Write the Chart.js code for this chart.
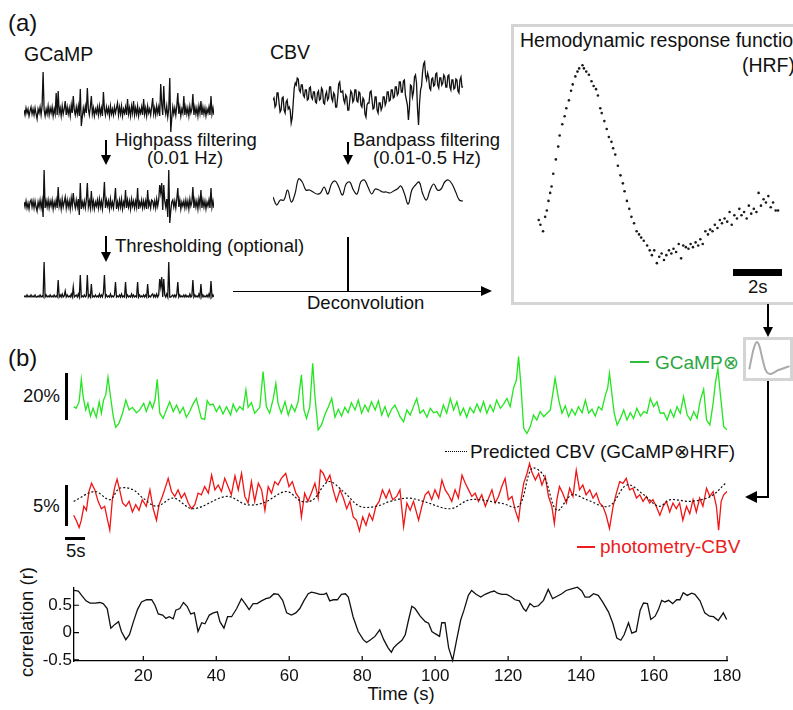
<!DOCTYPE html>
<html>
<head>
<meta charset="utf-8">
<script src="https://cdn.jsdelivr.net/npm/chart.js@4.4.0/dist/chart.umd.min.js"></script>
<style>
  body { margin:0; width:793px; height:710px; overflow:hidden; background:#fff; position:relative;
         font-family:"Liberation Sans", Arial, Helvetica, sans-serif; }
  .t { position:absolute; font-size:18.5px; line-height:1; white-space:nowrap; color:#111; }
  .big { font-size:24px; }
  .b19 { font-size:19px; }
  canvas { position:absolute; }
  .k { position:absolute; background:#000; }
  .box { position:absolute; box-sizing:border-box; border:3px solid #d4d4d4; }
</style>
</head>
<body>

<!-- panel (a) text -->
<div class="t big" style="left:8px;top:11px">(a)</div>
<div class="t" style="left:24px;top:45px;font-size:19.5px">GCaMP</div>
<div class="t" style="left:270px;top:43px;font-size:19.5px">CBV</div>
<div class="t" style="left:115px;top:131px">Highpass filtering</div>
<div class="t" style="left:147px;top:149px">(0.01 Hz)</div>
<div class="t" style="left:353px;top:131px">Bandpass filtering</div>
<div class="t" style="left:373px;top:149px">(0.01-0.5 Hz)</div>
<div class="t" style="left:115px;top:237px">Thresholding (optional)</div>
<div class="t" style="left:307px;top:294px">Deconvolution</div>

<div class="box" style="left:511px;top:24px;width:320px;height:281px"></div>
<div class="t" style="left:520px;top:31px;font-size:19.5px">Hemodynamic response function</div>
<div class="t" style="right:-2px;top:56px;font-size:19.5px">(HRF)</div>
<div class="k" style="left:733px;top:269px;width:49px;height:7px"></div>
<div class="t" style="left:748px;top:278px">2s</div>

<div class="box" style="left:743px;top:337px;width:50px;height:44px"></div>

<!-- panel (b) text -->
<div class="t big" style="left:8px;top:346px">(b)</div>
<div class="t" style="left:23px;top:387px">20%</div>
<div class="k" style="left:65px;top:373px;width:3px;height:47px"></div>
<div class="k" style="left:630px;top:361px;width:19px;height:1.5px;background:#2fbf3a"></div>
<div class="t b19" style="left:655px;top:353px;color:#2aa83e">GCaMP&#8855;</div>
<div class="k" style="left:445px;top:451px;width:22px;height:0;background:none;border-top:1.5px dotted #000"></div>
<div class="t b19" style="left:470px;top:442px">Predicted CBV (GCaMP&#8855;HRF)</div>
<div class="t" style="left:33px;top:497px">5%</div>
<div class="k" style="left:65px;top:485px;width:3px;height:41px"></div>
<div class="k" style="left:65px;top:537px;width:20px;height:2.5px"></div>
<div class="t" style="left:66px;top:542px">5s</div>
<div class="k" style="left:577px;top:546px;width:18px;height:1.5px;background:#ee1c1c"></div>
<div class="t b19" style="left:600px;top:537px;color:#e8201e">photometry-CBV</div>
<div class="t" style="left:401px;top:685px;transform:translateX(-50%)">Time (s)</div>
<div class="t" style="left:27px;top:622px;transform:translate(-50%,-50%) rotate(-90deg)">correlation (r)</div>

<canvas id="cGcampRaw" width="190" height="70" style="left:24px;top:66px"></canvas>
<canvas id="cGcampHp" width="190" height="65" style="left:24px;top:165px"></canvas>
<canvas id="cGcampThr" width="190" height="48" style="left:24px;top:255px"></canvas>
<canvas id="cCbvRaw" width="190" height="80" style="left:273px;top:55px"></canvas>
<canvas id="cCbvBp" width="190" height="45" style="left:273px;top:170px"></canvas>
<canvas id="cHrf" width="268" height="245" style="left:525px;top:40px"></canvas>
<canvas id="cHrfIcon" width="46" height="42" style="left:746px;top:338px"></canvas>
<canvas id="cGreen" width="657" height="100" style="left:70px;top:340px"></canvas>
<canvas id="cRed" width="657" height="90" style="left:70px;top:455px"></canvas>
<canvas id="cCorr" width="793" height="135" style="left:0px;top:575px"></canvas>

<script>
// ---------- values ----------
// (a) thumbnails, sample index on x, arbitrary units (px) on y
const gcampRaw = [2,-3,4,-1,3,-4,1,5,-2,3, -3,4,-2,-7,3,-1,5,-3,6,40, 2,-4,3,-2,6,-3,4,-1,5,-4,
  3,-2,19,-3,21,-1,4,-4,6,-2, 3,11,-3,5,-2,4,-4,7,-1,16, 2,-3,5,-2,6,-4,23,-14,-5,4,
  -2,6,-1,24,3,-3,5,16,-2,4, -4,3,-1,5,-3,6,-2,4,-4,20, 3,-3,5,-1,4,-4,6,-2,3,-3,
  5,-1,4,9,-3,5,-2,6,-4,3, -1,5,-3,13,-2,4,-4,6,-1,11, -3,4,-2,6,-4,3,-1,5,-3,13,
  -2,4,-4,6,-1,3,-3,5,14,-2, 4,-3,6,-1,5,-4,28,8,-3,26, 4,-2,6,-5,3,34,-20,-6,5,-2,
  4,-3,6,19,-2,5,-4,3,-1,16, -3,5,-2,4,-4,6,-1,3,18,-3, 5,-2,4,-4,6,-1,11,-3,5,-2, 4,-4,3,-1,5,-3,16,-2,4,-3];
const gcampHighpass = [3,-2,4,-3,2,-4,3,5,-2,4, -3,4,-2,-6,3,-2,5,-3,4,-12, 35,-3,4,-2,5,-3,4,-1,5,-4,
  3,-2,5,-3,18,-1,4,-4,6,-2, 3,8,-3,5,-2,4,-4,7,-1,12, 2,-3,5,-2,6,-10,22,-4,3,-2,
  4,-3,5,22,-2,4,-3,14,-2,4, -4,3,-1,5,-3,6,-2,4,-4,6, 23,-3,5,-1,4,-4,6,-2,3,-3,
  5,17,-4,3,-3,5,-2,6,-4,3, -1,15,-3,5,-2,4,-4,6,-1,4, -3,4,-2,17,-4,3,-1,5,-3,4,
  -2,4,-4,15,-1,3,-3,5,4,-2, 4,-3,6,-1,5,20,12,22,-5,20, 4,-2,6,-12,35,-18,-6,3,5,-2,
  4,-3,6,17,-2,5,-4,3,-1,4, -3,5,-2,4,-4,6,-1,3,18,-3, 5,-2,4,-4,6,-1,15,-3,5,-2, 4,-4,3,-1,5,-3,17,-2,4,-3];
const gcampThresh = [0,1,0,2,0,1,0,2,0,1, 0,2,0,0,1,0,2,0,1,0, 35,0,2,0,1,0,2,0,1,0,
  2,0,1,0,17,0,2,0,3,0, 1,6,0,2,0,1,0,3,0,10, 0,1,2,0,3,0,22,0,1,0,
  2,0,1,22,0,2,0,13,0,1, 0,2,0,1,0,3,0,2,0,4, 22,0,2,0,1,0,3,0,1,0,
  2,15,0,1,0,2,0,3,0,1, 0,15,0,2,0,1,0,3,0,2, 0,1,0,15,0,2,0,1,0,2,
  0,2,0,13,0,1,0,2,3,0, 2,0,3,0,2,18,10,20,0,18, 2,0,3,0,35,0,0,1,2,0,
  2,0,3,15,0,2,0,1,0,2, 0,2,0,1,0,3,0,1,17,0, 2,0,1,0,3,0,13,0,2,0, 1,0,2,0,3,0,16,0,2,0];
const cbvRaw = [0,2,-7,-5,7,7,-3,-12,-10,2,3,-10,-13,-2,0,-9,-7,-10,-23,-18,-3,12,17,15,22,21,10,8,15,15,
  5,3,10,10,0,1,12,13,3,1,8,8,-2,-3,7,9,0,1,12,10,-3,-4,5,8,0,2,13,13,2,-1,
  7,5,-7,-7,3,16,18,8,8,9,0,-3,5,3,-10,-10,0,9,7,-2,0,10,10,-1,-2,8,7,-5,-7,2,
  0,-14,-17,-5,-3,-3,8,9,0,-9,-8,3,3,-10,-13,-3,-3,-10,-7,3,3,-5,-2,8,8,-1,0,10,10,2,
  3,13,13,5,7,18,18,8,8,19,20,5,0,-5,-20,-8,15,14,3,8,23,25,17,-9,-25,-3,10,14,28,36,
  38,24,20,27,23,12,10,21,22,14,15,26,27,15,12,22,22,15,17,25,23,13,13,24,25,13,10,20,20,11,
  12,21,20,9,7,20,23,13,13];
const cbvBandpass = [-5,-13,-8,-8,2,-10,-2,13,10,2,2,0,-2,-1,5,-2,8,11,5,-3,8,10,2,-2,10,12,5,-2,3,2,0,0,-1,1,3,6,-2,-12,2,7,10,-2,-8,2,8,2,3,10,12,8,0,-8,-9];

// hemodynamic response function (s, normalised amplitude)
const hrfTime = [0,0.07,0.18,0.27,0.34,0.41,0.48,0.54,0.61,0.72,0.82,0.88,0.99,1.09,1.16,1.27,1.36,1.43,1.54,1.63,1.70,1.84,1.90,2.0,2.11,2.22,2.31,2.41,2.49,2.59,2.65,2.76,2.86,2.95,3.06,3.13,3.22,3.33,3.44,3.54,3.61,3.71,3.81,3.90,4.01,4.12,4.22,4.31,4.42,4.56,4.67,4.76,4.86,4.97,5.07,5.17,5.27,5.37,5.48,5.58,5.67,5.78,5.89,5.99,6.08,6.19,6.30,6.39,6.49,6.60,6.71,6.80,6.90,7.01,7.12,7.21,7.31,7.41,7.52,7.62,7.71,7.82,7.93,8.03,8.12,8.23,8.34,8.44,8.53,8.64,8.75,8.84,8.94,9.05,9.16,9.25,9.35,9.46,9.56,9.66,9.76,9.86,9.97,10.07];
const hrfAmp = [0.00,-0.03,-0.07,0.02,0.06,0.12,0.17,0.21,0.29,0.38,0.46,0.53,0.60,0.65,0.70,0.75,0.81,0.85,0.90,0.93,0.95,0.97,0.95,0.93,0.91,0.87,0.84,0.82,0.78,0.70,0.67,0.62,0.57,0.52,0.49,0.45,0.41,0.34,0.28,0.23,0.18,0.12,0.07,0.02,-0.02,-0.07,-0.09,-0.11,-0.13,-0.16,-0.19,-0.22,-0.19,-0.27,-0.23,-0.21,-0.25,-0.22,-0.19,-0.21,-0.18,-0.20,-0.15,-0.24,-0.16,-0.17,-0.18,-0.15,-0.17,-0.14,-0.16,-0.12,-0.15,-0.07,-0.09,-0.06,-0.07,-0.03,-0.05,0.00,-0.02,0.01,-0.01,0.05,-0.03,0.03,0.01,0.07,0.03,0.05,0.01,0.09,0.04,0.07,0.05,0.17,0.09,0.13,0.11,0.15,0.08,0.11,0.06,0.06];
const hrfIconTime = [0,0.6,1.2,1.8,2.4,3.0,3.6,4.2,5.0,6.0,7.0,8.2,9.8];
const hrfIconAmp = [0,0.45,0.82,1.0,0.88,0.52,0.15,-0.09,-0.17,-0.12,-0.03,0.03,0.12];

// (b) GCaMP, % dF/F
const gcampTime = [1.0,1.7,2.5,3.1,3.6,4.3,4.9,5.6,6.3,7.2,8.0,8.6,9.2,9.8,10.4,11.1,11.8,12.5,13.4,14.4,15.3,16.2,17.1,18.2,19.1,20.2,20.9,21.9,22.6,23.3,23.9,24.6,25.5,26.4,27.3,28.3,29.2,30.1,31.0,31.9,32.8,33.7,34.6,35.4,36.0,36.9,37.6,38.3,39.2,40.1,41.0,41.9,42.9,44.0,44.7,45.6,46.5,47.4,48.2,48.8,49.7,50.6,52.0,52.9,53.8,54.7,55.7,56.4,57.0,57.9,58.9,59.8,60.7,61.6,62.5,63.4,64.1,64.8,65.7,66.5,67.1,68.0,68.9,69.8,70.8,71.7,72.6,73.5,74.4,75.3,76.2,77.1,78.1,79.0,79.9,80.8,81.7,82.6,83.6,84.5,85.4,86.3,87.2,88.1,89.0,90.0,
  90.4,91.4,92.3,93.2,94.1,95.0,95.9,96.8,97.8,98.7,99.6,100.5,101.4,102.3,103.2,104.2,105.1,106.0,106.9,107.8,108.7,109.6,110.6,111.5,112.4,113.3,114.2,115.1,116.0,116.9,117.9,118.8,119.7,120.6,121.5,122.3,122.9,123.5,124.3,125.2,126.1,127.0,127.9,128.8,129.8,130.7,131.6,132.5,132.9,133.9,134.8,135.7,136.6,137.5,138.4,139.3,140.3,141.2,142.1,143.0,143.9,144.8,145.7,146.7,147.3,147.8,148.5,149.1,149.9,150.8,151.7,152.6,153.5,154.4,155.3,156.3,157.2,158.1,159.0,159.9,160.8,161.7,162.7,163.6,164.5,165.4,166.3,167.2,168.1,169.1,170.0,170.9,171.8,172.7,173.6,174.4,175.3,176.2,176.8,177.5,178.2,179.1,180.0];
const gcampPct = [2.7,2.0,4.8,14.3,7.0,1.3,4.1,-1.3,2.0,-1.8,4.8,-0.1,5.5,7.7,15.2,7.0,-0.9,-6.1,-4.4,-0.1,5.5,1.3,2.4,0.1,1.3,4.1,0.6,4.8,2.0,5.5,14.3,-0.1,-2.3,1.3,4.8,0.6,3.4,-0.1,2.4,-1.8,0.6,3.8,6.2,1.3,-2.3,-2.7,5.2,3.4,3.8,0.6,3.0,-0.4,2.7,-0.9,3.8,0.6,2.7,1.3,9.8,2.4,4.4,-0.1,2.4,17.6,2.7,-0.1,6.2,12.6,4.1,-0.1,4.8,-0.9,3.4,0.6,4.8,16.2,1.3,-2.3,2.7,21.1,7.0,-7.2,-5.1,-0.9,2.7,6.2,-1.8,1.6,-1.3,2.4,0.1,4.4,1.3,5.5,-0.1,3.4,0.6,4.8,1.3,5.2,-0.9,2.7,-1.6,1.6,3.4,0.1,
  -1.6,-3.7,1.3,-0.9,2.7,6.2,-0.1,1.3,-1.8,2.0,0.1,0.6,-1.6,3.4,-0.1,6.2,1.3,4.8,-0.9,2.0,-1.8,2.4,0.1,3.8,0.6,4.8,-0.1,3.4,0.6,5.5,2.0,3.8,6.2,2.7,10.5,14.0,24.0,12.6,-6.5,-8.7,-5.8,-0.9,-3.0,0.6,-1.6,-0.1,1.3,10.5,14.8,5.5,-0.1,3.0,-1.6,1.6,-0.9,2.7,0.1,5.5,-0.1,1.6,-1.3,2.7,1.3,7.7,10.5,16.9,7.7,-0.1,-5.1,-2.3,1.3,-3.0,0.1,-2.3,2.0,-1.3,0.6,-0.1,6.2,2.7,4.8,-0.1,0.1,-3.0,1.3,-1.8,2.7,-0.1,7.0,-0.9,-3.0,0.6,-2.3,5.5,10.1,-3.0,-5.1,4.1,12.6,19.0,7.7,-5.8,-7.2];

// (b) photometry CBV, %
const cbvTime = [1.0,1.7,2.5,3.1,3.8,4.5,5.2,5.9,6.8,7.7,8.6,9.5,10.1,10.9,11.6,12.3,12.9,13.6,14.4,15.3,16.2,17.1,18.0,18.9,19.8,20.9,21.9,22.8,23.7,24.4,25.3,26.2,26.9,27.8,28.7,29.6,30.5,31.4,32.4,33.3,34.2,35.1,36.0,36.9,37.9,38.8,39.7,40.6,41.5,42.4,43.3,44.2,45.2,46.1,47.0,47.9,48.8,49.7,50.6,51.6,52.5,53.4,54.3,55.2,56.1,57.0,57.9,59.1,60.0,60.9,61.9,62.8,63.4,64.3,65.2,66.1,67.1,68.0,68.6,69.4,70.3,71.2,72.1,73.0,74.0,74.9,75.8,76.7,77.6,78.5,79.3,80.2,81.1,82.0,82.9,83.8,84.7,85.6,86.6,87.5,88.4,89.5,
  90.4,91.4,92.3,93.2,94.1,95.5,96.4,97.3,98.2,99.1,100.0,101.0,101.9,102.8,103.7,104.6,105.5,106.4,107.4,108.3,109.2,110.1,111.0,111.9,112.8,113.8,114.7,115.6,116.5,117.4,118.3,119.2,120.1,121.1,122.0,122.9,123.5,124.3,125.2,125.9,126.5,127.5,128.4,129.3,130.2,131.1,132.0,132.7,133.4,134.1,135.0,136.0,136.9,137.8,138.7,139.6,140.5,141.4,142.4,143.3,144.2,145.1,146.0,146.9,147.8,148.8,149.7,150.6,151.5,152.4,153.3,154.2,155.2,156.1,157.0,157.9,158.8,159.7,160.6,161.6,162.5,163.4,164.3,165.2,166.1,167.0,167.9,168.9,169.8,170.7,171.6,172.5,173.4,174.4,175.3,176.2,177.1,177.7,178.4,179.1,180.0];
const cbvPct = [-1.5,-2.1,-3.0,-2.1,-0.4,-0.9,1.4,2.4,1.6,0.2,-0.7,-0.4,-1.7,-3.3,0.4,2.0,2.9,1.6,0.0,-0.4,0.2,-1.1,-0.2,-0.9,0.4,-0.4,1.6,-0.7,-2.1,-0.2,0.8,2.0,3.0,1.4,0.8,1.6,0.6,1.2,0.0,-0.7,-0.2,1.2,1.0,2.0,1.2,3.4,1.6,2.2,1.4,3.0,2.0,1.0,3.3,1.6,3.6,0.8,0.0,2.6,0.2,2.4,1.6,-0.9,2.0,1.2,2.6,2.2,3.0,3.6,2.0,2.6,1.2,0.6,-1.7,1.2,0.2,1.2,2.4,0.6,4.0,3.6,2.6,3.4,1.6,0.2,1.6,0.6,-0.7,0.2,-1.7,-2.1,-3.4,-1.7,-2.7,-1.3,-2.1,-0.4,0.2,1.6,0.6,1.6,0.4,0.8,
  1.6,-2.9,0.0,-0.9,0.2,-2.1,-0.4,1.0,1.4,0.4,1.6,0.6,2.8,1.6,1.0,0.2,1.6,0.6,3.4,2.4,1.6,0.8,1.2,0.2,1.0,-0.4,0.6,1.6,0.0,0.8,2.0,3.0,0.4,0.8,-0.9,-2.1,0.2,2.4,3.6,4.8,3.8,2.8,3.6,2.2,3.2,0.8,-0.4,-2.5,0.4,2.0,1.2,0.0,1.8,0.8,4.0,1.6,2.2,1.0,1.6,0.6,1.2,0.0,-0.4,-1.5,-3.1,-0.4,1.2,2.6,2.4,3.0,1.6,1.8,0.6,1.0,0.2,0.8,0.0,0.4,-0.4,-1.5,-0.4,0.2,-1.1,0.0,-0.7,0.0,-2.1,-0.4,-1.3,0.4,-1.1,0.6,-0.4,1.8,0.8,1.4,-0.4,-3.3,0.2,1.0,1.4];

// (b) predicted CBV (GCaMP convolved with HRF), %
const predTime = [1.0,6.8,10.9,13.6,17.3,20.0,23.7,28.3,33.7,42.9,48.4,52.9,59.3,63.4,66.6,70.8,74.9,79.4,84.0,87.7,92.7,96.8,104.2,109.6,117.9,122.9,126.5,129.7,133.4,137.5,141.6,147.6,152.6,157.2,161.3,164.5,170.0,175.5,179.6];
const predPct = [0.2,1.4,0.4,1.8,1.6,0.6,-0.4,0.6,-0.7,0.8,-0.2,0.0,1.4,0.2,0.4,2.6,1.4,-0.4,-0.4,0.2,0.6,0.2,-0.7,0.4,0.0,-0.4,4.2,3.4,-0.9,1.0,0.4,-0.4,2.2,1.0,-0.4,0.4,0.2,0.8,2.4];

// (b) sliding correlation
const corrTime = [1,2.2,3.1,4.3,5.4,6.8,8.1,9,10.1,11.1,12.2,13.2,14,15.2,16.2,17.3,18.4,19.5,20.9,22.3,23.2,24.1,25.3,26.2,27.1,28.2,28.9,30,31,32,33,34,35,36,36.9,38.1,39.2,40.3,41,42.1,43.1,44.2,45.6,46.9,48,49,50.1,51.2,52.4,53.6,54.7,55.8,57,58.2,59.3,60.6,61.8,62.9,64,65.2,66.1,67.3,68.4,69.5,70.2,71.1,72.1,73.2,74.3,75.4,76.2,77.5,78.9,80.3,81.2,82.3,83.5,84.8,85.9,87.1,88,88.6,89.5,90.9,91.8,92.7,93.6,94.5,95.9,97.3,98.2,99.1,100,101.2,101.8,102.7,103.7,104.8,105.9,107,107.9,109.1,110,111.2,112.5,113.7,115.1,116.2,117.1,118.3,119.6,120.7,121.9,123.1,124.2,124.9,126,127.1,128.3,129.7,131,132.2,133.3,134.7,135.9,137.4,139,140.2,141.1,142.3,143.4,144.7,145.9,147.5,148.7,149.8,150.9,151.8,153,153.9,155.1,156.2,157.1,158.2,159.1,160.3,161.2,162.1,163,164,165.1,166.2,167.1,168,169.1,170.3,171.2,172.6,173.9,175.2,176.3,177.6,179,179.9];
const corrR = [0.77,0.76,0.68,0.58,0.54,0.54,0.55,0.53,0.44,0.08,0.15,0.2,0.02,-0.13,-0.04,0.2,0.42,0.56,0.6,0.6,0.5,0.34,0.32,0.26,0.29,0.25,0.41,0.44,0.55,0.48,0.34,0.36,0.02,0.18,0.16,0.32,0.36,0.38,0.2,0.08,0.29,0.29,0.44,0.62,0.52,0.42,0.53,0.53,0.58,0.62,0.64,0.71,0.7,0.59,0.36,0.32,0.36,0.44,0.58,0.71,0.74,0.72,0.7,0.7,0.72,0.58,0.6,0.6,0.7,0.71,0.65,0.29,0.02,-0.13,-0.18,-0.13,-0.07,0.05,-0.13,-0.28,-0.36,-0.28,-0.22,-0.14,-0.04,0.23,0.48,0.44,0.3,0.2,0.17,0.02,-0.02,-0.07,0.18,0.18,-0.28,-0.51,-0.13,0.23,0.41,0.68,0.77,0.7,0.65,0.7,0.74,0.76,0.72,0.7,0.7,0.66,0.6,0.58,0.44,0.39,0.53,0.47,0.49,0.59,0.79,0.62,0.66,0.71,0.77,0.8,0.83,0.76,0.65,0.65,0.71,0.68,0.56,0.38,0.17,-0.1,-0.14,-0.04,0.18,-0.01,0.02,0.41,0.54,0.53,0.24,0.3,0.42,0.59,0.56,0.59,0.53,0.6,0.6,0.73,0.68,0.72,0.7,0.58,0.36,0.3,0.29,0.22,0.36,0.24];

const timeTicks = [20, 40, 60, 80, 100, 120, 140, 160, 180];
const corrTicks = [-0.5, 0, 0.5];

// ---------- helpers ----------
Chart.defaults.font.family = '"Liberation Sans", Arial, sans-serif';

function pts(xs, ys) {
  const n = xs ? Math.min(xs.length, ys.length) : ys.length;
  let out = [];
  for (let i = 0; i < n; i++) out.push({ x: xs ? xs[i] : i, y: ys[i] });
  return out;
}

function trace(data, color, width, extra) {
  return Object.assign({ data: data, borderColor: color, borderWidth: width, pointRadius: 0,
    tension: 0, clip: false, fill: false }, extra || {});
}

// chart with hidden axes, x/y range chosen so the trace lands where it sits in the figure
function bareChart(id, datasets, xr, yr) {
  return new Chart(document.getElementById(id), {
    type: 'line',
    data: { datasets: datasets },
    options: {
      responsive: false, animation: false, devicePixelRatio: 1,
      layout: { padding: 0 },
      plugins: { legend: { display: false }, tooltip: { enabled: false } },
      scales: {
        x: { type: 'linear', display: false, min: xr[0], max: xr[1] },
        y: { type: 'linear', display: false, min: yr[0], max: yr[1] }
      }
    }
  });
}

// ---------- panel (a) ----------
bareChart('cGcampRaw', [trace(pts(null, gcampRaw), '#111', 1.3)], [0, gcampRaw.length - 1], [-24, 46]);
bareChart('cGcampHp', [trace(pts(null, gcampHighpass), '#111', 1.3)], [0, gcampHighpass.length - 1], [-25, 40]);
bareChart('cGcampThr', [trace(pts(null, gcampThresh), '#111', 1.3)], [0, gcampThresh.length - 1], [-6, 42]);
bareChart('cCbvRaw', [trace(pts(null, cbvRaw), '#111', 1.3)], [0, cbvRaw.length - 1], [-35, 45]);
bareChart('cCbvBp', [trace(pts(null, cbvBandpass), '#111', 1.2, { tension: 0.4 })], [0, cbvBandpass.length - 1], [-23, 22]);

bareChart('cHrf', [trace(pts(hrfTime, hrfAmp), '#222', 0, {
  showLine: false, pointRadius: 1.3, pointBackgroundColor: '#1a1a1a', pointBorderWidth: 0 })],
  [-0.41, 10.53], [-0.382, 1.103]);
bareChart('cHrfIcon', [trace(pts(hrfIconTime, hrfIconAmp), '#aaa', 2, { tension: 0.4 })], [-0.8, 10.4], [-0.39, 1.15]);

// ---------- panel (b) ----------
bareChart('cGreen', [trace(pts(gcampTime, gcampPct), '#22e61e', 1.3)], [0, 180], [-11.5, 31.06]);
bareChart('cRed', [
  trace(pts(predTime, predPct), '#111', 1.2, { borderDash: [2, 2], tension: 0.35 }),
  trace(pts(cbvTime, cbvPct), '#f01414', 1.3)
], [0, 180], [-5.12, 5.85]);

// inward tick marks like the original figure
const inwardTicks = {
  id: 'inwardTicks',
  afterDraw(chart) {
    const ctx = chart.ctx, a = chart.chartArea;
    const sx = chart.scales.x, sy = chart.scales.y;
    ctx.save();
    ctx.strokeStyle = '#000';
    ctx.lineWidth = 1.2;
    ctx.beginPath();
    timeTicks.forEach(v => { const px = sx.getPixelForValue(v); ctx.moveTo(px, a.bottom); ctx.lineTo(px, a.bottom - 5); });
    corrTicks.forEach(v => { const py = sy.getPixelForValue(v); ctx.moveTo(a.left, py); ctx.lineTo(a.left + 5, py); });
    ctx.stroke();
    ctx.restore();
  }
};

new Chart(document.getElementById('cCorr'), {
  type: 'line',
  data: { datasets: [trace(pts(corrTime, corrR), '#111', 1.3)] },
  options: {
    responsive: false, animation: false, devicePixelRatio: 1,
    layout: { padding: { top: 12, right: 66, left: 0, bottom: 0 } },
    plugins: { legend: { display: false }, tooltip: { enabled: false } },
    scales: {
      x: {
        type: 'linear', min: 1, max: 180,
        afterBuildTicks: s => { s.ticks = timeTicks.map(v => ({ value: v })); },
        afterFit: s => { s.height = 49; },
        grid: { display: false, drawTicks: false },
        border: { display: true, color: '#000', width: 1.3 },
        ticks: { color: '#111', font: { size: 17 }, padding: 5, maxRotation: 0, autoSkip: false }
      },
      y: {
        type: 'linear', min: -0.52, max: 0.83,
        afterBuildTicks: s => { s.ticks = corrTicks.map(v => ({ value: v })); },
        afterFit: s => { s.width = 74; },
        grid: { display: false, drawTicks: false },
        border: { display: true, color: '#000', width: 1.3 },
        ticks: { color: '#111', font: { size: 17 }, padding: 2 }
      }
    }
  },
  plugins: [inwardTicks]
});

// ---------- arrows ----------
function seg(x, y, w, h) {
  let d = document.createElement('div');
  d.className = 'k';
  d.style.cssText = 'left:' + x + 'px;top:' + y + 'px;width:' + w + 'px;height:' + h + 'px';
  document.body.appendChild(d);
}
function head(x, y, dir) {
  let d = document.createElement('div');
  d.style.position = 'absolute';
  d.style.width = '0'; d.style.height = '0';
  if (dir === 'down') {
    d.style.cssText += ';left:' + (x - 5) + 'px;top:' + (y - 10) + 'px;border-left:5px solid transparent;border-right:5px solid transparent;border-top:10px solid #000';
  } else if (dir === 'right') {
    d.style.cssText += ';left:' + (x - 11) + 'px;top:' + (y - 5) + 'px;border-top:5px solid transparent;border-bottom:5px solid transparent;border-left:11px solid #000';
  } else {
    d.style.cssText += ';left:' + x + 'px;top:' + (y - 6) + 'px;border-top:6px solid transparent;border-bottom:6px solid transparent;border-right:12px solid #000';
  }
  document.body.appendChild(d);
}

seg(105, 140, 1.5, 18); head(106, 165, 'down');
seg(105, 236, 1.5, 19); head(106, 262, 'down');
seg(347, 142, 1.5, 16); head(348, 165, 'down');
seg(347, 237, 2, 54);              // impulse above the deconvolution arrow
seg(233, 290.5, 250, 1.5); head(492, 291, 'right');
seg(767, 304, 2, 24); head(768, 337, 'down');
seg(767, 381, 2, 117); seg(755, 496, 14, 2); head(745, 497, 'left');
</script>
</body>
</html>
